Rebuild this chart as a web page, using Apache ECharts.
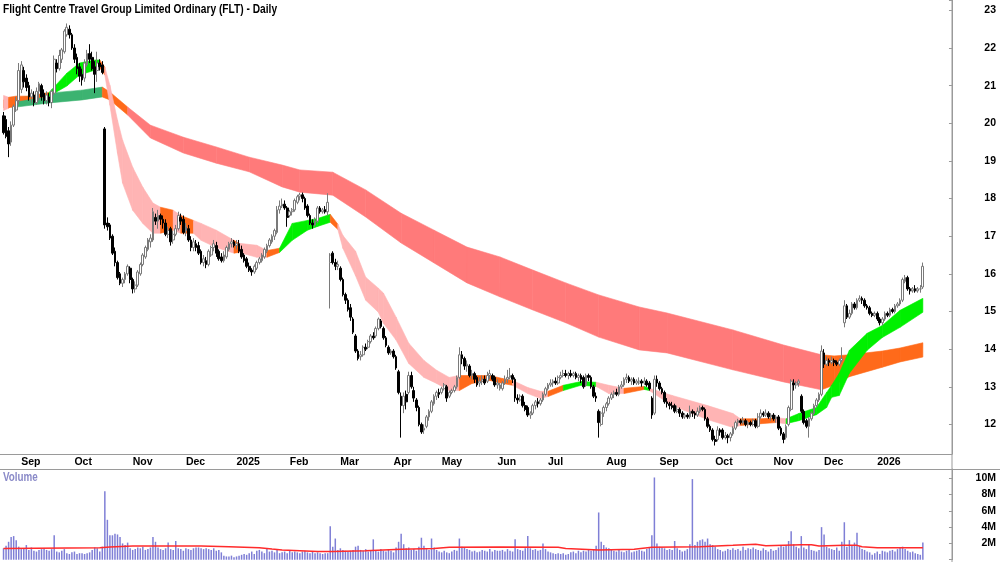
<!DOCTYPE html>
<html lang="en">
  <head>
    <meta charset="UTF-8" />
    <title>FLT - Daily</title>
    <script src="https://cdnjs.cloudflare.com/ajax/libs/echarts/6.0.0/echarts.min.js"></script>
    <style>
      html, body { margin: 0; padding: 0; background: #fff; }
      #chart { width: 1000px; height: 562px; }
    </style>
  </head>
  <body>
    <div id="chart"></div>
    <script>
      // daily bars: [open, close, low, high]
      const ohlc = [
        [20.2,19.75,19.7,20.3],[20.1,19.65,19.6,20.2],[19.8,19.45,19.1,19.9],[19.5,19.95,19.4,20.05],[19.95,20.45,19.9,20.5],
        [20.35,20.6,20.3,20.7],[20.6,21.4,20.5,21.6],[20.9,21.55,20.8,21.65],[21.4,21.1,20.95,21.5],[21.2,20.95,20.85,21.3],
        [21.0,20.7,20.6,21.1],[20.7,20.8,20.55,20.9],[20.75,20.55,20.45,20.85],[20.55,20.85,20.5,20.95],[20.85,21.05,20.6,21.1],
        [21.0,20.7,20.6,21.05],[20.8,20.6,20.5,20.9],[20.6,20.75,20.5,20.85],[20.7,20.55,20.45,20.8],[20.55,20.85,20.4,20.9],
        [20.8,21.7,20.75,21.8],[21.6,21.45,21.35,21.7],[21.45,21.8,21.4,21.95],[21.7,21.95,21.6,22.0],[21.9,22.45,21.85,22.5],
        [22.35,22.55,22.3,22.65],[22.5,22.35,22.25,22.6],[22.35,22.0,21.95,22.4],[22.0,21.7,21.6,22.1],[21.75,21.45,21.3,21.85],
        [21.5,21.25,21.1,21.6],[21.3,21.15,21.0,21.45],[21.2,21.6,21.1,21.7],[21.55,21.85,21.5,21.95],[21.85,21.7,21.6,22.1],
        [21.75,21.45,21.4,21.9],[21.5,21.3,20.8,21.65],[21.4,21.6,21.1,21.9],[21.6,21.5,21.4,21.7],[21.55,21.35,21.3,21.65],
        [19.85,17.3,17.2,19.9],[17.35,17.25,17.15,17.5],[17.3,16.95,16.9,17.35],[17.0,16.55,16.5,17.05],[16.6,16.3,16.2,16.7],
        [16.3,15.9,15.85,16.35],[16.0,15.75,15.7,16.05],[15.75,15.85,15.65,15.9],[15.85,16.0,15.75,16.05],[16.0,16.2,15.95,16.25],
        [16.15,15.85,15.75,16.2],[15.85,15.6,15.48,15.9],[15.6,15.7,15.5,15.8],[15.7,16.05,15.65,16.1],[16.0,16.25,15.95,16.3],
        [16.25,16.5,16.2,16.55],[16.45,16.7,16.4,16.75],[16.65,16.9,16.6,16.95],[16.85,16.95,16.7,17.05],[16.9,17.65,16.85,17.75],
        [17.5,17.4,17.3,17.6],[17.4,17.55,17.2,17.7],[17.55,17.45,17.3,17.6],[17.45,17.35,17.2,17.55],[17.35,17.05,17.0,17.45],
        [17.05,17.15,16.95,17.25],[17.2,16.85,16.75,17.25],[16.9,17.05,16.8,17.15],[17.05,17.2,17.0,17.3],[17.2,17.55,17.15,17.65],
        [17.5,17.4,17.3,17.6],[17.45,17.1,17.05,17.55],[17.15,17.25,17.0,17.35],[17.2,16.9,16.85,17.3],[16.9,16.7,16.6,17.0],
        [16.7,16.85,16.6,16.95],[16.8,16.7,16.6,16.9],[16.75,16.55,16.5,16.85],[16.6,16.3,16.25,16.65],[16.3,16.4,16.2,16.5],
        [16.35,16.25,16.15,16.45],[16.25,16.6,16.2,16.65],[16.5,16.7,16.45,16.75],[16.7,16.8,16.6,16.9],[16.75,16.55,16.45,16.85],
        [16.6,16.4,16.35,16.65],[16.45,16.35,16.3,16.55],[16.35,16.5,16.3,16.6],[16.45,16.7,16.4,16.75],[16.65,16.8,16.6,16.85],
        [16.8,16.85,16.7,16.95],[16.85,16.75,16.7,16.9],[16.75,16.8,16.65,16.9],[16.8,16.6,16.55,16.9],[16.65,16.45,16.4,16.75],
        [16.5,16.35,16.3,16.55],[16.4,16.2,16.15,16.45],[16.2,16.1,16.05,16.3],[16.1,16.05,15.95,16.15],[16.05,16.2,16.0,16.25],
        [16.15,16.3,16.1,16.35],[16.3,16.4,16.25,16.45],[16.35,16.5,16.3,16.55],[16.45,16.65,16.4,16.7],[16.6,16.75,16.55,16.8],
        [16.75,16.9,16.7,16.95],[16.85,17.0,16.8,17.05],[17.0,17.15,16.9,17.2],[17.1,17.7,17.05,17.8],[17.7,17.8,17.6,17.95],
        [17.8,17.85,17.75,18.0],[17.85,17.75,17.7,17.95],[17.75,17.5,17.25,17.8],[17.55,17.65,17.5,17.7],[17.65,17.7,17.55,17.75],
        [17.7,17.95,17.65,18.0],[17.9,18.05,17.85,18.1],[18.05,18.1,17.95,18.15],[18.1,18.0,17.9,18.16],[18.0,17.75,17.7,18.05],
        [17.8,17.55,17.5,17.85],[17.55,17.35,17.3,17.6],[17.35,17.3,17.2,17.45],[17.3,17.4,17.25,17.5],[17.4,17.75,17.35,17.8],
        [17.75,17.65,17.6,17.8],[17.65,17.7,17.6,17.75],[17.7,17.65,17.6,17.8],[17.65,17.9,17.55,18.14],[16.3,16.5,15.08,16.55],
        [16.55,16.3,16.25,16.6],[16.3,16.2,16.1,16.4],[16.2,16.25,16.1,16.35],[16.15,15.85,15.8,16.2],[15.85,15.45,15.4,15.9],
        [15.45,15.3,15.2,15.5],[15.3,15.05,15.0,15.35],[15.1,14.85,14.75,15.2],[14.8,14.45,14.4,14.85],[14.35,13.95,13.9,14.4],
        [13.95,13.75,13.7,14.0],[13.8,13.85,13.7,13.95],[13.85,14.05,13.8,14.1],[14.05,14.0,13.95,14.15],[14.05,14.2,14.0,14.25],
        [14.2,14.35,14.15,14.4],[14.35,14.3,14.25,14.45],[14.35,14.55,14.3,14.6],[14.55,14.8,14.5,14.84],[14.75,14.6,14.55,14.8],
        [14.55,14.3,14.25,14.6],[14.3,14.1,14.05,14.35],[14.05,13.9,13.85,14.1],[13.9,13.95,13.85,14.0],[13.95,13.8,13.75,14.0],
        [13.8,13.5,13.45,13.85],[13.4,12.85,12.8,13.45],[12.75,12.5,11.65,12.85],[12.5,12.75,12.3,12.85],[12.8,12.6,12.4,12.9],
        [12.85,13.3,12.8,13.4],[13.3,13.0,12.95,13.4],[12.9,12.7,12.6,13.0],[12.65,12.45,12.35,12.7],[12.45,12.0,11.95,12.5],
        [12.0,11.8,11.75,12.05],[11.85,11.9,11.75,12.0],[11.95,12.2,11.9,12.25],[12.2,12.35,12.1,12.4],[12.35,12.6,12.3,12.65],
        [12.55,12.75,12.5,12.8],[12.75,12.85,12.65,12.9],[12.85,12.8,12.7,12.95],[12.85,12.95,12.8,13.0],[12.95,13.05,12.9,13.1],
        [13.0,12.7,12.6,13.05],[12.75,12.85,12.7,12.9],[12.85,12.9,12.8,12.95],[12.9,13.0,12.85,13.05],[13.0,13.25,12.95,13.3],
        [13.25,13.85,13.2,14.05],[13.85,13.75,13.6,13.95],[13.75,13.55,13.45,13.8],[13.55,13.6,13.4,13.7],[13.55,13.3,13.25,13.6],
        [13.3,13.35,13.2,13.45],[13.35,13.2,13.1,13.4],[13.25,13.05,13.0,13.3],[13.1,13.15,13.0,13.25],[13.15,13.2,13.05,13.3],
        [13.2,13.1,13.05,13.3],[13.15,13.3,13.1,13.4],[13.3,13.35,13.2,13.45],[13.3,13.2,13.15,13.35],[13.25,13.05,13.0,13.3],
        [13.05,13.1,12.95,13.2],[12.95,13.05,12.9,13.1],[12.95,13.1,12.9,13.15],[13.1,13.2,13.05,13.3],[13.2,13.25,13.1,13.45],
        [13.25,13.3,13.2,13.5],[13.3,13.2,13.1,13.35],[13.2,12.7,12.6,13.25],[12.7,12.65,12.55,12.8],[12.65,12.75,12.6,12.8],
        [12.75,12.5,12.45,12.8],[12.5,12.4,12.35,12.6],[12.45,12.25,12.2,12.5],[12.25,12.3,12.15,12.35],[12.3,12.5,12.25,12.55],
        [12.5,12.6,12.4,12.65],[12.6,12.55,12.45,12.7],[12.55,12.65,12.5,12.7],[12.65,12.8,12.6,12.85],[12.8,12.95,12.75,13.0],
        [12.95,13.05,12.9,13.1],[13.05,13.1,13.0,13.2],[13.1,13.15,13.0,13.2],[13.15,13.1,13.05,13.25],[13.1,13.25,13.05,13.3],
        [13.25,13.3,13.2,13.4],[13.3,13.35,13.25,13.45],[13.35,13.3,13.25,13.45],[13.3,13.35,13.2,13.4],[13.35,13.3,13.25,13.45],
        [13.3,13.35,13.25,13.4],[13.35,13.25,13.2,13.4],[13.25,13.3,13.15,13.35],[13.3,13.2,13.1,13.35],[13.25,13.0,12.95,13.3],
        [13.05,13.3,13.0,13.35],[13.3,13.25,13.15,13.35],[13.25,13.0,12.95,13.3],[13.0,12.75,12.7,13.05],[12.75,12.7,12.6,12.85],
        [12.35,12.05,11.65,12.4],[12.0,12.3,11.95,12.35],[12.3,12.45,12.2,12.5],[12.45,12.55,12.35,12.6],[12.55,12.7,12.5,12.75],
        [12.7,12.8,12.65,12.85],[12.8,12.85,12.7,12.9],[12.85,12.8,12.75,12.95],[12.8,13.0,12.75,13.05],[13.0,13.05,12.95,13.15],
        [13.05,13.2,13.0,13.25],[13.2,13.25,13.1,13.35],[13.25,13.15,13.1,13.3],[13.15,13.2,13.05,13.25],[13.2,13.1,13.05,13.25],
        [13.1,13.15,13.05,13.2],[13.1,13.15,13.05,13.25],[13.15,13.1,13.0,13.2],[13.1,13.15,13.05,13.25],[13.15,13.05,13.0,13.2],
        [13.1,12.95,12.9,13.15],[12.7,12.25,12.15,12.75],[12.3,13.2,12.25,13.3],[13.2,13.1,13.0,13.3],[13.1,12.95,12.9,13.15],
        [12.95,12.85,12.8,13.0],[12.85,12.6,12.55,12.9],[12.6,12.55,12.45,12.7],[12.55,12.5,12.4,12.6],[12.5,12.45,12.4,12.6],
        [12.5,12.35,12.3,12.55],[12.35,12.4,12.3,12.5],[12.4,12.3,12.2,12.45],[12.3,12.2,12.15,12.35],[12.2,12.25,12.15,12.3],
        [12.25,12.2,12.15,12.3],[12.2,12.35,12.15,12.5],[12.35,12.3,12.2,12.4],[12.3,12.25,12.15,12.35],[12.25,12.35,12.2,12.45],
        [12.35,12.45,12.3,12.5],[12.45,12.4,12.35,12.5],[12.4,12.15,12.1,12.45],[12.15,11.95,11.9,12.2],[11.95,11.85,11.8,12.0],
        [11.85,11.6,11.55,11.9],[11.6,11.55,11.44,11.7],[11.6,11.85,11.55,11.95],[11.85,11.8,11.7,11.9],[11.85,11.65,11.6,11.9],
        [11.65,11.7,11.6,11.8],[11.7,11.65,11.5,11.75],[11.65,11.75,11.55,11.8],[11.75,11.9,11.7,11.95],[11.9,12.05,11.85,12.1],
        [12.05,12.1,11.95,12.15],[12.1,12.05,12.0,12.15],[12.05,12.1,12.0,12.2],[12.1,12.0,11.95,12.15],[12.0,12.05,11.9,12.1],
        [12.05,12.0,11.95,12.1],[12.0,12.1,11.95,12.15],[12.1,11.95,11.9,12.15],[11.95,12.2,11.9,12.3],[12.2,12.3,12.15,12.4],
        [12.3,12.25,12.2,12.35],[12.25,12.3,12.2,12.4],[12.3,12.2,12.15,12.35],[12.2,12.25,12.1,12.3],[12.25,12.15,12.1,12.3],
        [12.15,12.2,12.05,12.25],[12.2,11.9,11.85,12.25],[11.9,11.75,11.7,11.95],[11.75,11.6,11.5,11.8],[11.65,11.95,11.6,12.0],
        [12.0,12.45,11.95,12.5],[12.4,13.15,12.35,13.2],[13.1,13.05,12.9,13.2],[13.05,13.1,12.95,13.15],[13.1,13.15,13.0,13.2],
        [12.75,12.35,12.3,12.8],[12.35,12.05,12.0,12.4],[12.1,11.95,11.9,12.15],[11.95,12.15,11.65,12.2],[12.15,12.3,12.1,12.35],
        [12.3,12.5,12.25,12.55],[12.5,12.65,12.45,12.7],[12.65,12.8,12.6,12.85],[12.8,13.95,12.75,14.1],[13.9,13.6,13.5,14.0],
        [13.6,13.7,13.55,13.8],[13.7,13.65,13.55,13.75],[13.65,13.7,13.6,13.8],[13.7,13.65,13.55,13.75],[13.65,13.6,13.55,13.7],
        [13.6,13.7,13.55,13.75],[13.7,13.75,13.65,14.05],[14.7,15.15,14.58,15.3],[15.15,14.85,14.8,15.2],[14.85,14.95,14.8,15.05],
        [14.95,15.2,14.9,15.25],[15.2,15.1,15.05,15.25],[15.1,15.3,15.05,15.35],[15.3,15.35,15.25,15.43],[15.35,15.3,15.2,15.4],
        [15.3,15.15,15.1,15.35],[15.15,15.1,15.05,15.2],[15.1,14.95,14.9,15.15],[14.95,14.9,14.85,15.0],[14.9,14.95,14.85,15.0],
        [14.95,14.8,14.75,15.0],[14.8,14.7,14.63,14.85],[14.7,14.8,14.63,14.85],[14.8,14.95,14.75,15.0],[14.95,14.9,14.85,15.0],
        [14.9,15.05,14.85,15.1],[15.05,15.0,14.95,15.1],[15.0,15.15,14.95,15.2],[15.15,15.2,15.1,15.25],[15.2,15.3,15.15,15.35],
        [15.3,15.85,15.25,15.9],[15.8,15.9,15.75,15.97],[15.9,15.6,15.55,15.95],[15.6,15.55,15.45,15.65],[15.55,15.6,15.5,15.65],
        [15.6,15.55,15.5,15.7],[15.55,15.6,15.5,15.65],[15.6,15.6,15.5,15.7],[15.65,16.2,15.6,16.3]
      ];

      // daily volume, millions of shares
      const volume = [
        1.4,1.7,2.2,2.8,2.9,2.4,1.6,1.3,1.3,1.8, 1.2,1.5,1.1,1.0,1.2,1.3,1.4,1.2,1.1,1.3,
        3.0,1.0,0.9,1.1,1.3,0.8,0.7,0.9,1.0,0.7, 0.8,0.8,0.7,0.8,0.9,1.2,1.5,1.4,1.0,1.6,
        8.4,4.9,3.0,3.0,3.2,3.1,2.8,2.0,1.8,2.1, 1.4,1.2,1.3,1.5,1.4,1.6,1.2,1.3,1.5,2.8,
        2.2,1.5,1.3,1.2,1.4,2.1,1.3,1.2,2.3,1.4, 1.3,1.1,1.4,1.3,1.2,1.4,1.5,1.5,1.4,1.3,
        1.4,1.3,1.2,1.4,1.1,1.2,0.9,0.5,0.4,0.4, 0.5,0.3,0.4,0.5,0.6,0.7,0.6,0.8,1.0,0.7,
        1.1,1.2,1.0,0.8,1.3,1.0,1.1,0.9,1.2,0.8, 0.9,1.0,0.8,1.1,0.9,1.0,0.9,0.8,1.0,1.1,
        0.9,0.8,1.0,0.8,0.9,0.8,0.7,0.8,0.8,4.1, 1.6,2.6,1.2,1.4,1.2,1.1,1.0,1.1,1.2,1.6,
        1.7,1.2,1.1,1.3,1.0,1.2,2.5,1.1,1.0,1.3, 1.1,1.0,1.2,1.1,0.9,1.5,2.2,3.2,1.9,1.4,
        1.5,1.2,1.3,1.1,1.6,2.7,1.7,1.3,1.2,2.6, 1.5,1.2,1.0,0.9,1.1,0.9,0.8,1.0,1.2,1.1,
        2.6,1.6,1.5,1.3,1.2,1.0,1.1,0.9,1.0,1.2, 1.1,1.0,1.3,1.0,1.2,1.1,1.1,1.2,1.0,1.3,
        1.1,1.0,2.5,1.3,1.2,1.1,1.4,2.9,1.4,1.2, 1.3,1.1,1.2,2.0,1.3,1.0,0.9,0.8,0.7,0.8,
        0.7,0.8,0.6,0.7,0.9,1.0,0.8,1.1,0.9,1.1, 1.0,1.2,1.1,1.3,1.7,5.8,2.2,1.8,1.5,1.4,
        1.2,1.1,1.0,1.3,1.0,0.9,1.1,1.2,0.9,1.0, 1.1,
        1.2,1.1,1.0,1.3,1.5,3.0,10.1,2.0,1.6,1.5, 1.4,1.2,1.3,1.2,2.3,1.4,1.2,1.0,1.1,1.3,
        1.9,9.9,1.8,2.2,2.4,2.5,2.2,2.6,1.9,1.8, 1.6,1.3,1.2,1.0,1.1,1.3,1.2,1.4,1.2,1.3,
        1.1,1.6,1.2,1.4,1.3,1.5,1.3,1.2,1.1,1.4, 1.2,1.0,1.3,1.1,1.2,1.5,1.7,1.6,1.8,2.3,
        3.5,1.9,1.6,1.4,2.9,1.5,1.3,1.8,1.2,1.1, 1.0,1.2,4.0,3.1,1.6,1.4,1.3,1.2,1.5,1.1,
        2.2,4.6,1.6,2.4,1.7,2.1,3.3,1.7,1.3,1.2, 1.0,0.9,0.6,0.8,1.0,0.7,1.1,1.0,0.9,1.1,
        1.2,1.0,1.3,1.5,1.6,1.3,1.1,0.9,1.0,0.8, 0.7,0.6,2.1
      ];

      // volume moving average: [bar index, millions]
      const volumeAvg = [
        [0,1.39],[38,1.48],[42,1.55],[51,1.68],[78,1.68],[89,1.6],[101,1.48],[106,1.31],[110,1.19],
        [124,1.02],[130,1.02],[143,1.1],[157,1.27],[170,1.39],[176,1.52],[196,1.56],[219,1.52],
        [222,1.39],[235,1.19],[249,1.27],[256,1.52],[275,1.6],[288,1.76],[297,1.89],[301,1.72],
        [315,1.84],[319,1.84],[322,1.68],[332,1.76],[337,1.76],[339,1.6],[345,1.48],[363,1.48]
      ];

      // short-term average ribbon: [bar index, low, high, trend of the following stretch]
      const shortBand = [
        [0,20.34,20.74,"dn"],[2,20.4,20.69,"mx"],[5,20.58,20.72,"mx"],[10,20.64,20.72,"mx"],
        [18,20.72,20.82,"up"],[25,20.99,21.33,"up"],[30,21.28,21.6,"up"],[36,21.41,21.68,"up"],
        [38,21.47,21.68,"mx"],[40,21.28,21.49,"dn"],[42,20.48,21.01,"dn"],[45,19.2,20.08,"dn"],
        [47,18.41,19.55,"dn"],[51,17.69,18.83,"dn"],[55,17.34,18.3,"dn"],[59,17.08,17.88,"dn"],
        [62,17.08,17.77,"mx"],[67,17.16,17.69,"dn"],[70,17.08,17.55,"mx"],[75,17.08,17.42,"dn"],
        [78,16.89,17.34,"dn"],[84,16.7,17.16,"dn"],[91,16.55,16.89,"mx"],[93,16.57,16.81,"dn"],
        [100,16.44,16.76,"dn"],[104,16.44,16.62,"mx"],[109,16.57,16.68,"up"],[114,16.89,17.34,"up"],
        [120,17.16,17.42,"up"],[124,17.26,17.47,"up"],[129,17.37,17.58,"mx"],[132,17.18,17.32,"dn"],
        [134,16.68,17.02,"dn"],[139,15.95,16.6,"dn"],[143,15.3,15.91,"dn"],[148,14.98,15.62,"dn"],
        [150,14.69,15.49,"dn"],[155,14.24,14.85,"dn"],[160,13.62,14.16,"dn"],[166,13.25,13.7,"dn"],
        [171,13.09,13.44,"dn"],[176,12.9,13.25,"dn"],[180,12.9,13.3,"mx"],[185,13.09,13.3,"mx"],
        [192,13.17,13.3,"mx"],[197,13.09,13.22,"mx"],[201,13.04,13.17,"dn"],[207,12.82,12.98,"dn"],
        [212,12.69,12.88,"dn"],[215,12.74,12.88,"mx"],[221,12.9,13.04,"up"],[228,13.04,13.14,"up"],
        [234,13.01,13.12,"dn"],[239,12.82,13.04,"dn"],[245,12.82,12.96,"mx"],[253,12.93,13.01,"up"],
        [255,12.9,12.96,"dn"],[264,12.5,12.77,"dn"],[278,12.13,12.5,"dn"],[288,11.92,12.29,"dn"],
        [291,11.97,12.15,"mx"],[299,12.02,12.15,"mx"],[305,12.05,12.18,"dn"],[309,12.02,12.15,"up"],
        [314,12.1,12.29,"up"],[321,12.26,12.45,"up"],[325,12.45,12.85,"up"],[327,12.72,13.04,"up"],
        [330,12.77,13.36,"up"],[334,13.36,13.97,"up"],[341,13.97,14.42,"up"],[347,14.31,14.63,"up"],
        [354,14.58,15.03,"up"],[363,14.98,15.35,"up"]
      ];

      // long-term average ribbon
      const longBand = [
        [0,20.41,20.62,"mx"],[5,20.43,20.67,"up"],[18,20.54,20.8,"up"],[31,20.62,20.88,"up"],
        [39,20.7,20.96,"mx"],[42,20.62,20.83,"mx"],[49,20.22,20.43,"dn"],[58,19.61,19.95,"dn"],
        [71,19.21,19.63,"dn"],[84,18.94,19.37,"dn"],[97,18.71,19.1,"dn"],[110,18.31,18.89,"dn"],
        [117,18.17,18.76,"dn"],[130,18.09,18.7,"dn"],[143,17.51,18.23,"dn"],[157,16.82,17.61,"dn"],
        [170,16.29,17.16,"dn"],[183,15.76,16.71,"dn"],[196,15.39,16.45,"dn"],[209,15.04,16.1,"dn"],
        [222,14.7,15.76,"dn"],[235,14.32,15.44,"dn"],[251,13.98,15.12,"dn"],[262,13.9,14.96,"dn"],
        [288,13.45,14.51,"dn"],[308,13.13,14.11,"dn"],[323,12.92,13.85,"mx"],[328,13.05,13.82,"mx"],
        [334,13.27,13.85,"mx"],[347,13.52,13.95,"mx"],[354,13.66,14.03,"mx"],[363,13.79,14.17,"mx"]
      ];

      // first bar of each month on the time axis
      const monthTicks = {
        7: "Sep", 28: "Oct", 51: "Nov", 72: "Dec", 92: "2025", 113: "Feb", 133: "Mar", 154: "Apr",
        173: "May", 195: "Jun", 215: "Jul", 238: "Aug", 259: "Sep", 281: "Oct", 304: "Nov",
        324: "Dec", 345: "2026"
      };

      const SLOTS = 375; // bars plus empty space on the right
      const categories = Array.from({ length: SLOTS }, (_, i) => String(i));

      const FONT = "'Liberation Sans', Arial, sans-serif";
      const GRID_LEFT = 2.27;
      const GRID_WIDTH = 949.7;

      const shortColors = { up: "#00f000", mx: "#ff6a1a", dn: "#ffb4b4" };
      const longColors = { up: "#3cb371", mx: "#ff6a1a", dn: "#ff7a7a" };

      const bandSeries = (samples, colors, z) => ({
        type: "custom",
        xAxisIndex: 0,
        yAxisIndex: 0,
        z,
        silent: true,
        data: samples.slice(0, -1).map((s) => [s[0], s[1], s[2]]),
        encode: { x: 0, y: [1, 2] },
        renderItem: (params, api) => {
          const a = samples[params.dataIndex];
          const b = samples[params.dataIndex + 1];
          const c = colors[a[3]];
          return {
            type: "polygon",
            shape: {
              points: [
                api.coord([a[0], a[2]]),
                api.coord([b[0], b[2]]),
                api.coord([b[0], b[1]]),
                api.coord([a[0], a[1]]),
              ],
            },
            style: { fill: c, stroke: c, lineWidth: 0.6 },
          };
        },
      });

      const labelStyle = { color: "#000", fontFamily: FONT, fontWeight: "bold", fontSize: 10.5 };
      const axisGrey = { color: "#9a9a9a" };

      const option = {
        animation: false,
        backgroundColor: "#fff",
        grid: [
          { left: GRID_LEFT, width: GRID_WIDTH, top: 0, height: 454 },
          { left: GRID_LEFT, width: GRID_WIDTH, top: 469, height: 90.7 },
        ],
        xAxis: [
          {
            type: "category",
            gridIndex: 0,
            data: categories,
            boundaryGap: true,
            axisLine: { lineStyle: axisGrey },
            axisTick: { interval: (i) => i in monthTicks, length: 3, lineStyle: axisGrey },
            axisLabel: {
              interval: (i) => i in monthTicks,
              formatter: (v, i) => monthTicks[i] || "",
              align: "left",
              margin: 3,
              ...labelStyle,
            },
            splitLine: { show: false },
          },
          {
            type: "category",
            gridIndex: 1,
            data: categories,
            boundaryGap: true,
            axisLine: { show: false },
            axisTick: { show: false },
            axisLabel: { show: false },
          },
        ],
        yAxis: [
          {
            type: "value",
            gridIndex: 0,
            position: "right",
            min: 11.215,
            max: 23.274,
            minInterval: 1,
            maxInterval: 1,
            axisLine: { show: true, lineStyle: axisGrey },
            axisTick: { show: true, inside: true, length: 3, lineStyle: axisGrey },
            axisLabel: {
              formatter: (v) => (Math.abs(v - Math.round(v)) < 1e-6 ? String(Math.round(v)) : ""),
              align: "right",
              margin: 44,
              ...labelStyle,
            },
            splitLine: { show: false },
          },
          {
            type: "value",
            gridIndex: 1,
            position: "right",
            min: 0,
            max: 11.14,
            interval: 2,
            axisLine: { show: true, lineStyle: axisGrey },
            axisTick: { show: true, inside: true, length: 3, lineStyle: axisGrey },
            axisLabel: {
              formatter: (v) => (v > 0 && v <= 10 ? v + "M" : ""),
              align: "right",
              margin: 44,
              ...labelStyle,
            },
            splitLine: { show: false },
          },
        ],
        graphic: [
          { type: "line", shape: { x1: 0, y1: 469.5, x2: 1000, y2: 469.5 }, style: { stroke: "#9a9a9a", lineWidth: 1 } },
          { type: "line", shape: { x1: 952, y1: 0, x2: 952, y2: 562 }, style: { stroke: "#9a9a9a", lineWidth: 1 } },
          { type: "line", shape: { x1: 0, y1: 454.5, x2: 952, y2: 454.5 }, style: { stroke: "#9a9a9a", lineWidth: 1 } },
          {
            type: "text", x: 3, y: 3.5, scaleX: 0.85, z: 10,
            style: {
              text: "Flight Centre Travel Group Limited Ordinary (FLT) - Daily",
              fill: "#000", fontFamily: FONT, fontWeight: "bold", fontSize: 12, verticalAlign: "top",
            },
          },
          {
            type: "text", x: 3, y: 472, scaleX: 0.82, z: 10,
            style: {
              text: "Volume",
              fill: "#8a8ac8", fontFamily: FONT, fontWeight: "bold", fontSize: 12, verticalAlign: "top",
            },
          },
        ],
        series: [
          bandSeries(longBand, longColors, 1),
          bandSeries(shortBand, shortColors, 2),
          {
            type: "candlestick",
            xAxisIndex: 0,
            yAxisIndex: 0,
            z: 5,
            barWidth: 2.2,
            data: ohlc,
            itemStyle: {
              color: "#ffffff",
              color0: "#000000",
              borderColor: "#7a7a7a",
              borderColor0: "#000000",
              borderWidth: 1,
            },
          },
          {
            type: "bar",
            xAxisIndex: 1,
            yAxisIndex: 1,
            barWidth: 1.5,
            data: volume,
            itemStyle: { color: "#7f7fd6" },
          },
          {
            type: "line",
            xAxisIndex: 1,
            yAxisIndex: 1,
            z: 4,
            data: volumeAvg,
            symbol: "none",
            lineStyle: { color: "#ff2b2b", width: 1.5 },
          },
        ],
      };

      const chart = echarts.init(document.getElementById("chart"));
      chart.setOption(option);
    </script>
  </body>
</html>
